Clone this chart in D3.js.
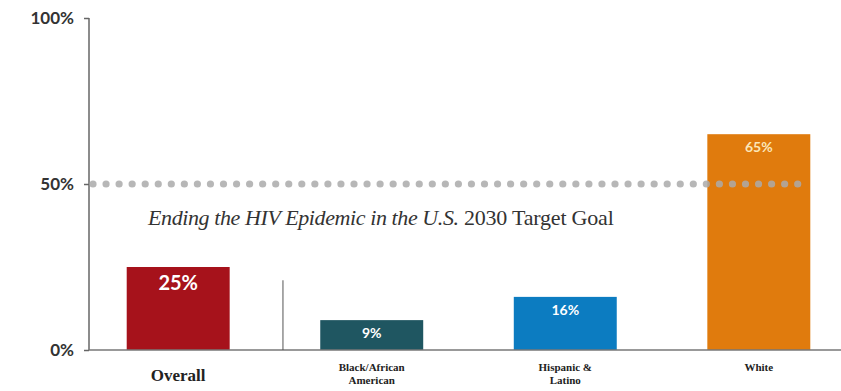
<!DOCTYPE html>
<html><head><meta charset="utf-8">
<script src="https://cdn.jsdelivr.net/npm/d3@7"></script>
<style>body{margin:0;background:#fff}svg{display:block}</style>
</head><body>
<svg id="c" width="841" height="391"></svg>
<script>
const categories = ["Overall", "Black/African American", "Hispanic & Latino", "White"];
const labelLines = [["Overall"], ["Black/African", "American"], ["Hispanic &", "Latino"], ["White"]];
const values = [25, 9, 16, 65];
const barColors = ["#a6121b", "#1f5661", "#0c7cc1", "#e07b0d"];
const tickValues = [0, 50, 100];
const tickLabels = ["0%", "50%", "100%"];
const targetValue = 50;
const targetText = ["Ending the HIV Epidemic in the U.S.", " 2030 Target Goal"];

const svg = d3.select("#c");
const x = d3.scaleBand().domain(categories).range([88, 849]).paddingInner(0.468).paddingOuter(0.2);
const y = d3.scaleLinear().domain([0, 100]).range([350, 18]);

// y axis
const yAxis = d3.axisLeft(y).tickValues(tickValues).tickFormat((d, i) => tickLabels[i]).tickSize(5).tickPadding(10);
const ga = svg.append("g").attr("transform", "translate(89,0)").call(yAxis);
ga.select(".domain").remove();
ga.selectAll(".tick line").attr("stroke", "#666").attr("stroke-width", 1.5);
ga.selectAll(".tick text").attr("fill", "#333").attr("font-family", "Lato, 'Open Sans', sans-serif")
  .attr("font-weight", "bold").attr("font-size", 17);
svg.append("line").attr("x1", 89).attr("x2", 89).attr("y1", y(100)).attr("y2", y(0))
  .attr("stroke", "#666").attr("stroke-width", 1.5);

// bars
svg.selectAll("rect.bar").data(values).join("rect").attr("class", "bar")
  .attr("x", (d, i) => x(categories[i])).attr("width", x.bandwidth())
  .attr("y", d => y(d)).attr("height", d => y(0) - y(d))
  .attr("fill", (d, i) => barColors[i]);

// baseline
svg.append("line").attr("x1", 89).attr("x2", 841).attr("y1", y(0)).attr("y2", y(0))
  .attr("stroke", "#777").attr("stroke-width", 1.5);

// separator
const sepX = x(categories[0]) + x.bandwidth() + (x.step() - x.bandwidth()) / 2 + 8;
svg.append("line").attr("x1", sepX).attr("x2", sepX).attr("y1", y(21)).attr("y2", y(0))
  .attr("stroke", "#555").attr("stroke-width", 1);

// target dotted line
const lastBarEnd = x(categories[categories.length - 1]) + x.bandwidth();
const dotXs = d3.range(93, lastBarEnd, 13.05);
svg.selectAll("circle.dot").data(dotXs).join("circle").attr("class", "dot")
  .attr("cx", d => d).attr("cy", y(targetValue)).attr("r", 3.6)
  .attr("fill", "#aaa").attr("opacity", 0.85);

// target text
const tt = svg.append("text").attr("x", 148).attr("y", 225)
  .attr("font-family", "'Liberation Serif', 'DejaVu Serif', serif").attr("font-size", 22).attr("fill", "#333");
tt.append("tspan").attr("font-style", "italic").attr("letter-spacing", -0.4).text(targetText[0]);
tt.append("tspan").attr("letter-spacing", -0.2).text(targetText[1]);

// value labels
svg.selectAll("text.val").data(values).join("text").attr("class", "val")
  .attr("x", (d, i) => x(categories[i]) + x.bandwidth() / 2)
  .attr("y", (d, i) => y(d) + (i === 0 ? 23 : 18))
  .attr("text-anchor", "middle").attr("fill", (d, i) => i === 3 ? "#fbe6b8" : "#fff")
  .attr("font-family", "Lato, 'Open Sans', sans-serif").attr("font-weight", "bold")
  .attr("font-size", (d, i) => i === 0 ? 20 : 14)
  .text(d => d + "%");

// category labels
labelLines.forEach((lines, i) => {
  const cx = x(categories[i]) + x.bandwidth() / 2;
  const t = svg.append("text").attr("text-anchor", "middle").attr("fill", "#222")
    .attr("font-family", "'Liberation Serif', serif").attr("font-weight", "bold")
    .attr("font-size", i === 0 ? 17 : 11);
  lines.forEach((l, j) => {
    t.append("tspan").attr("x", cx).attr("y", (i === 0 ? 381 : 371) + j * 13).text(l);
  });
});
</script>
</body></html>
